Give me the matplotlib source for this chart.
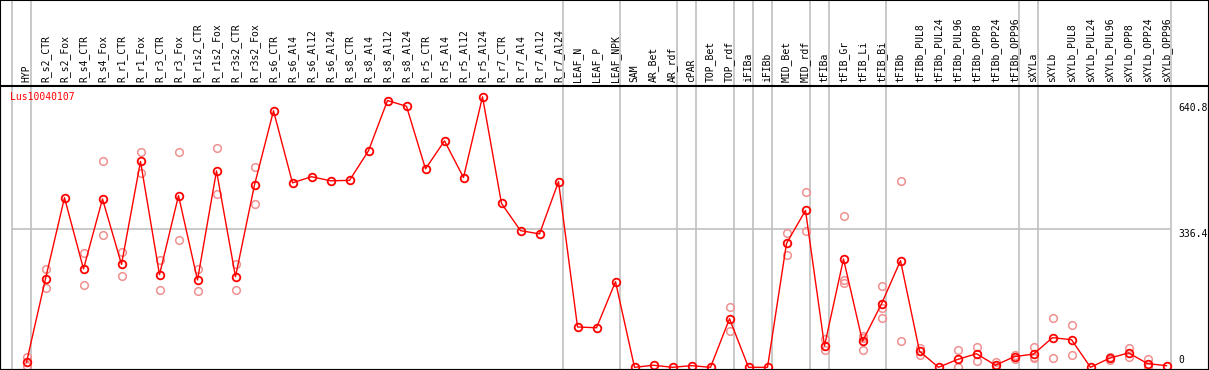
import numpy as np
import matplotlib
matplotlib.use("Agg")
import matplotlib.pyplot as plt
from matplotlib.patches import Rectangle

gene = "Lus10040107"

samples = ["HYP", "R_s2_CTR", "R_s2_Fox", "R_s4_CTR", "R_s4_Fox", "R_r1_CTR", "R_r1_Fox",
           "R_r3_CTR", "R_r3_Fox", "R_r1s2_CTR", "R_r1s2_Fox", "R_r3s2_CTR", "R_r3s2_Fox",
           "R_s6_CTR", "R_s6_Al4", "R_s6_Al12", "R_s6_Al24", "R_s8_CTR", "R_s8_Al4",
           "R_s8_Al12", "R_s8_Al24", "R_r5_CTR", "R_r5_Al4", "R_r5_Al12", "R_r5_Al24",
           "R_r7_CTR", "R_r7_Al4", "R_r7_Al12", "R_r7_Al24", "LEAF_N", "LEAF_P", "LEAF_NPK",
           "SAM", "AR_Bet", "AR_rdf", "cPAR", "TOP_Bet", "TOP_rdf", "iFIBa", "iFIBb",
           "MID_Bet", "MID_rdf", "tFIBa", "tFIB_Gr", "tFIB_Li", "tFIB_Bi", "tFIBb",
           "tFIBb_PUL8", "tFIBb_PUL24", "tFIBb_PUL96", "tFIBb_OPP8", "tFIBb_OPP24", "tFIBb_OPP96",
           "sXYLa", "sXYLb", "sXYLb_PUL8", "sXYLb_PUL24", "sXYLb_PUL96", "sXYLb_OPP8",
           "sXYLb_OPP24", "sXYLb_OPP96"]

# mean expression per sample
means = [12, 215, 412, 239, 409, 250, 500, 225, 417, 212, 477, 220, 443,
         623, 448, 463, 453, 454, 526, 648, 634, 482, 550, 461, 657,
         398, 332, 324, 451, 98, 96, 208,
         0, 5, 0, 4, 0, 118, 0, 0,
         301, 381, 52, 263, 63, 154, 259,
         39, 0, 19, 33, 5, 26,
         32, 72, 67, 0, 22, 35, 9, 4]

# replicate values (nan = none visible)
n = np.nan
rep1 = [25, 239, n, 278, 500, 280, 524, 261, 524, 238, 533, 250, 487,
        n, n, n, n, n, n, n, n, n, n, n, n,
        n, n, n, n, n, n, n,
        n, n, n, n, n, 147, n, n,
        327, 426, 68, 368, 75, 198, 453,
        47, n, 43, 50, 12, 31,
        50, 120, 103, n, 26, 46, 20, n]
rep2 = [4, 193, n, 199, 322, 221, 472, 188, 310, 186, 421, 188, 397,
        n, n, n, n, n, n, n, n, n, n, n, n,
        n, n, n, n, n, n, n,
        n, n, n, n, n, 89, n, n,
        272, 332, 42, 212, 42, 143, 64,
        31, n, 0, 15, 0, 20,
        24, 23, 30, n, 18, 24, 0, n]
rep3 = [n, n, n, n, n, n, n, n, n, n, n, n, n,
        n, n, n, n, n, n, n, n, n, n, n, n,
        n, n, n, n, n, n, n,
        n, n, n, n, n, n, n, n,
        n, n, n, 205, 70, 120, n,
        n, n, n, n, n, n,
        22, n, n, n, n, n, n, n]

# last sample index of each group (separator lines drawn just right of it)
group_ends = [-1, 0, 28, 31, 34, 35, 37, 38, 39, 41, 42, 45, 52, 53, 60]

ref_value = 336.4
max_label = 640.8

W, H = 1209, 370
fig = plt.figure(figsize=(W / 100, H / 100), dpi=100)
plot_top = (H - 85.5) / H
ax = fig.add_axes([0, 0, 1, plot_top])

x = np.arange(len(samples))
px0, step = 26.5, 19.0
ax.set_xlim((0 - px0) / step, (W - px0) / step)
y0, scale = 367.3, 0.4117
ax.set_ylim((y0 - H) / scale, (y0 - 85.5) / scale)

grid_c = "#c0c0c0"
sep = np.array(group_ends) + 4 / step
for b in sep:
    ax.axvline(b, ymin=0, ymax=1 / plot_top, color=grid_c, lw=1.2, clip_on=False, zorder=1)
ax.hlines(ref_value, sep[0], sep[-1], color=grid_c, lw=1.2, zorder=1)

rep_c = "#f09090"
for r in (rep1, rep2, rep3):
    ax.plot(x, r, ls="none", marker="o", ms=5.5, mfc="none", mec=rep_c, mew=1.1, zorder=2)
ax.plot(x, means, color="red", lw=1.0, marker="o", ms=5.5, mfc="none", mec="red",
        mew=1.3, zorder=3)

for spine in ax.spines.values():
    spine.set_color("black")
    spine.set_linewidth(1.5)
ax.set_xticks([])
ax.set_yticks([])

mono = "DejaVu Sans Mono"
trans = ax.get_xaxis_transform()
for i, s in enumerate(samples):
    ax.text(i, 1 + 3.5 / (plot_top * H), s, rotation=90, ha="center", va="bottom",
            fontsize=7, family=mono, transform=trans, clip_on=False)

ax.text(10 / W, 1 - 7 / (plot_top * H), gene, color="red", fontsize=7, family=mono,
        transform=ax.transAxes, ha="left", va="top")

lab_x = (1178 - px0) / step
ax.text(lab_x, max_label, f"{max_label}", fontsize=7, family=mono, ha="left", va="top")
ax.text(lab_x, ref_value, f"{ref_value}", fontsize=7, family=mono, ha="left", va="top")
ax.annotate("0", (lab_x, 0), xytext=(0, 2), textcoords="offset points",
            fontsize=7, family=mono, ha="left", va="bottom")

fig.patches.append(Rectangle((0, 0), 1, 1, transform=fig.transFigure, fill=False,
                             edgecolor="black", lw=1.5))

fig.savefig("out.png", dpi=100)
